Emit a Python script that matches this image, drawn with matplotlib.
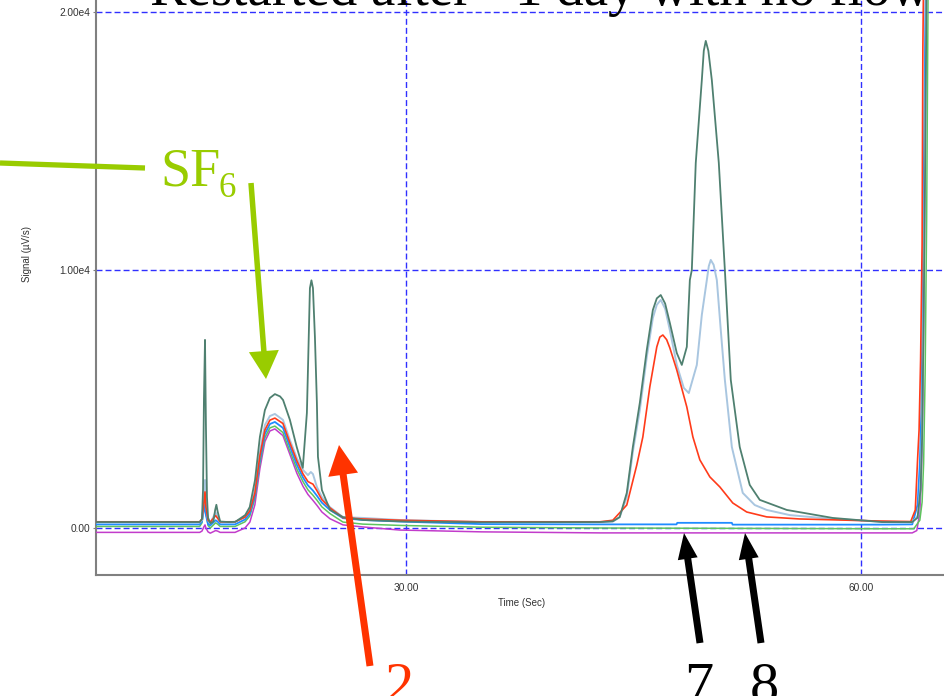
import numpy as np
import matplotlib
matplotlib.use("Agg")
import matplotlib.pyplot as plt
from matplotlib.patches import Polygon
from matplotlib.lines import Line2D

# ---------------- data (time in s, signal in uV/s) ----------------
teal_t = [9.6, 16.4, 16.55, 16.62, 16.68, 16.75, 16.81, 16.88, 16.95, 17.1, 17.3, 17.42, 17.5, 17.58, 17.75,
          18.3, 18.75, 19.4, 19.7, 20.05, 20.37, 20.7, 21.03, 21.36, 21.7, 21.9, 22.35, 22.8, 23.2, 23.47,
          23.54, 23.67, 23.77, 23.87, 24.0, 24.13, 24.2, 24.46, 25.0, 25.85, 27.2, 30.0, 35.0, 42.8, 43.65, 44.1,
          44.57, 44.97, 45.43, 45.89, 46.29, 46.55, 46.81, 47.1, 47.41, 47.87, 48.2, 48.53, 48.73, 48.86, 49.12,
          49.52, 49.65, 49.78, 49.95, 50.18, 50.64, 51.04, 51.43, 52.02, 52.68, 53.34, 55.12, 58.15, 61.4,
          63.4, 63.75, 63.95, 64.05, 64.15, 64.25, 64.35, 65.6]
teal_v = [230, 230, 350, 1500, 5000, 7290, 4000, 1200, 400, 180, 250, 700, 900, 650, 250,
          230, 240, 500, 810, 1860, 3530, 4570, 5040, 5190, 5100, 4960, 4190, 3140, 2330, 4460,
          6120, 9300, 9600, 9300, 7400, 4850, 2760, 1470, 700, 420, 310, 250, 220, 230, 260, 420,
          1360, 3140, 4850, 6900, 8450, 8900, 9030, 8700, 7950, 6780, 6320, 7020, 9610, 10000, 14150,
          17360, 18500, 18880, 18500, 17360, 14150, 10000, 5740, 3140, 1670, 1090, 700, 390, 230,
          230, 400, 1500, 3500, 8000, 14000, 21500, 21500]

lblue_t = [9.6, 16.4, 16.55, 16.68, 16.75, 16.81, 16.95, 17.1, 17.45, 17.58, 17.75, 18.73, 19.39, 19.71,
           20.04, 20.37, 20.7, 21.03, 21.36, 21.89, 22.35, 22.81, 23.21, 23.54, 23.73, 23.87, 24.13, 24.46,
           24.99, 25.85, 27.16, 29.6, 35.0, 42.8, 43.65, 44.1, 44.57, 44.97, 45.43, 45.89, 46.29, 46.55,
           46.81, 47.1, 47.41, 47.87, 48.33, 48.66, 49.19, 49.52, 49.85, 49.98, 50.11, 50.3, 50.51, 50.77,
           51.04, 51.5, 52.22, 53.01, 53.8, 55.32, 58.15, 61.38, 63.4, 63.8, 63.95, 64.05, 64.15, 64.25,
           64.35, 65.6]
lblue_v = [220, 220, 300, 1200, 1860, 900, 300, 200, 600, 450, 230, 230, 430, 700,
           1470, 2950, 3990, 4340, 4420, 4190, 3410, 2710, 2250, 2050, 2170, 2090, 1590, 1200,
           810, 420, 390, 310, 230, 220, 250, 420, 1200, 2950, 4570, 6630, 8140, 8650,
           8840, 8500, 7670, 6320, 5430, 5230, 6320, 8260, 9610, 10150, 10390, 10200, 9610, 7670,
           5740, 3140, 1360, 890, 700, 500, 350, 250, 220, 500, 1800, 4000, 9000, 15000,
           21500, 21500]

red_t = [9.6, 16.4, 16.55, 16.68, 16.75, 16.81, 16.95, 17.1, 17.45, 17.58, 17.75, 18.73, 19.39, 19.71,
         20.04, 20.37, 20.7, 21.03, 21.36, 21.89, 22.35, 22.81, 23.21, 23.54, 23.73, 23.87, 24.13, 24.46,
         24.99, 25.85, 27.16, 29.6, 35.0, 42.8, 43.65, 44.57, 45.23, 45.63, 46.09, 46.55, 46.75, 46.95,
         47.2, 47.41, 47.87, 48.53, 48.93, 49.39, 50.05, 50.71, 51.56, 52.48, 53.8, 55.98, 61.2, 63.3,
         63.6, 63.75, 63.85, 63.95, 64.05, 64.1, 64.15, 65.6]
red_v = [240, 240, 350, 1000, 1400, 800, 300, 230, 480, 380, 240, 240, 420, 660,
         1350, 2800, 3800, 4180, 4260, 4050, 3300, 2600, 2100, 1800, 1740, 1700, 1450, 1100,
         780, 400, 350, 300, 240, 240, 300, 890, 2440, 3530, 5470, 7020, 7400, 7480,
         7300, 6980, 6120, 4690, 3530, 2640, 1980, 1590, 970, 620, 430, 350, 270, 250,
         700, 2640, 3800, 6500, 11000, 18600, 21500, 21500]

blue_t = [9.6, 16.4, 16.55, 16.68, 16.75, 16.81, 16.95, 17.1, 17.45, 17.58, 17.75, 18.73, 19.39, 19.71,
          20.04, 20.37, 20.7, 21.03, 21.36, 21.89, 22.35, 22.81, 23.21, 23.54, 23.87, 24.13, 24.46, 24.99,
          25.85, 27.16, 29.6, 35.0, 42.8, 47.85, 47.9, 51.5, 51.55, 61.2, 63.4, 63.75, 63.9, 64.0, 64.1,
          64.2, 64.3, 65.6]
blue_v = [140, 140, 250, 700, 900, 500, 150, 100, 300, 250, 140, 140, 330, 560,
          1250, 2650, 3650, 4030, 4110, 3880, 3150, 2450, 1960, 1650, 1450, 1250, 980, 700,
          380, 310, 250, 150, 140, 140, 200, 200, 130, 130, 140, 900, 2500, 4500, 9000,
          16000, 21500, 21500]

green_t = [9.6, 16.4, 16.55, 16.68, 16.75, 16.81, 16.95, 17.1, 17.45, 17.58, 17.75, 18.73, 19.39, 19.71,
           20.04, 20.37, 20.7, 21.03, 21.36, 21.89, 22.35, 22.81, 23.21, 23.54, 23.87, 24.13, 24.46, 24.99,
           25.85, 27.16, 29.6, 35.0, 42.8, 61.5, 63.5, 63.9, 64.05, 64.15, 64.25, 64.35, 64.45, 65.6]
green_v = [60, 60, 200, 800, 1100, 600, 100, 0, 200, 150, 60, 60, 240, 470,
           1150, 2500, 3500, 3880, 3950, 3700, 2980, 2280, 1800, 1480, 1270, 1080, 820, 560,
           230, 150, 100, 30, 0, -30, -30, 300, 1000, 2500, 6000, 12000, 21500, 21500]

mag_t = [9.6, 16.4, 16.55, 16.68, 16.75, 16.81, 16.95, 17.1, 17.45, 17.58, 17.75, 18.73, 19.39, 19.71,
         20.04, 20.37, 20.7, 21.03, 21.36, 21.89, 22.35, 22.81, 23.21, 23.54, 23.87, 24.13, 24.46, 24.99,
         25.85, 27.16, 29.6, 35.0, 42.8, 63.4, 63.7, 63.9, 64.0, 64.1, 64.2, 64.3, 65.6]
mag_v = [-170, -170, -120, 50, 120, 0, -150, -200, -100, -120, -170, -170, 0, 230,
         900, 2300, 3350, 3760, 3840, 3580, 2850, 2120, 1620, 1300, 1070, 880, 620, 360,
         120, 40, -80, -150, -190, -190, -100, 600, 2000, 5000, 11000, 21500, 21500]

series = [
    (mag_t, mag_v, "#c23ccb", 1.1),
    (green_t, green_v, "#5ec45e", 1.1),
    (blue_t, blue_v, "#1f8cff", 1.3),
    (lblue_t, lblue_v, "#a9c6e0", 1.4),
    (red_t, red_v, "#ff3b1a", 1.2),
    (teal_t, teal_v, "#4f8070", 1.3),
]

x_ticks = [30.0, 60.0]
x_ticklabels = ["30.00", "60.00"]
y_ticks = [0, 10000, 20000]
y_ticklabels = ["0.00", "1.00e4", "2.00e4"]

# ---------------- figure ----------------
W, H = 945, 696
fig = plt.figure(figsize=(W / 100, H / 100), dpi=100)
ax = fig.add_axes([96 / W, 1 - 575 / H, 1 - 96 / W, 575 / H])

for t, v, c, lw in series:
    ax.plot(t, v, color=c, lw=lw, zorder=3, solid_joinstyle="round")

ax.set_xlim(9.56, 65.56)
ax.set_ylim(-1822, 20465)
ax.set_xticks(x_ticks)
ax.set_xticklabels(x_ticklabels)
ax.set_yticks(y_ticks)
ax.set_yticklabels(y_ticklabels)
for lab in ax.get_xticklabels() + ax.get_yticklabels():
    lab.set_fontfamily("Liberation Sans")
    lab.set_fontsize(7.3)
    lab.set_color("#333333")
ax.tick_params(axis="y", length=2.5, width=0.8, color="#808080", pad=1.5)
ax.tick_params(axis="x", length=0, pad=6)

ax.grid(True, color="#3030ff", lw=1.0, ls=(0, (4.3, 2.2)), zorder=1)
ax.set_axisbelow(True)
for s in ["top", "right"]:
    ax.spines[s].set_visible(False)
for s in ["left", "bottom"]:
    ax.spines[s].set_color("#808080")
    ax.spines[s].set_linewidth(1.5)

fig.text(522 / W, 1 - 603 / H, "Time (Sec)", ha="center", va="center",
         fontsize=7, family="Liberation Sans", color="#333333")
fig.text(27 / W, 1 - 254 / H, "Signal (\u00b5V/s)", ha="center", va="center", rotation=90,
         fontsize=7, family="Liberation Sans", color="#333333")

# title (cropped at top, as in the reference)
fig.text(150 / W, 1 - 5 / H, "Restarted after ~1 day with no flow", ha="left", va="baseline",
         fontsize=39.5, family="Liberation Serif", color="black")


# ---------------- annotations ----------------
def px(x, y):
    return (x / W, 1 - y / H)


def arrow(tail, tip, shaft, head_w, head_len, color):
    tail = np.array(tail, float)
    tip = np.array(tip, float)
    d = tip - tail
    u = d / np.hypot(*d)
    n = np.array([-u[1], u[0]])
    base = tip - u * head_len
    pts = [tail + n * shaft / 2, base + n * shaft / 2, base + n * head_w / 2, tip,
           base - n * head_w / 2, base - n * shaft / 2, tail - n * shaft / 2]
    pts = [px(p[0], p[1]) for p in pts]
    fig.add_artist(Polygon(pts, closed=True, transform=fig.transFigure,
                           facecolor=color, edgecolor="none", zorder=10))


green = "#99cc00"
fig.add_artist(Line2D([0, 145 / W], [1 - 163 / H, 1 - 168 / H], transform=fig.transFigure,
                      color=green, lw=3.8, solid_capstyle="butt", zorder=10))
arrow((251, 183), (266, 379), 5.5, 30, 28, green)
fig.text(160 / W, 1 - 185 / H, "SF", ha="left", va="baseline", fontsize=39,
         family="Liberation Serif", color=green)
fig.text(219 / W, 1 - 197 / H, "6", ha="left", va="baseline", fontsize=25,
         family="Liberation Serif", color=green)

red = "#ff3300"
arrow((370, 666), (339, 445), 7, 30, 30, red)
fig.text(384 / W, 1 - 702 / H, "2", ha="left", va="baseline", fontsize=42,
         family="Liberation Serif", color=red)

arrow((700, 643), (684, 533), 7, 20, 26, "black")
arrow((761, 643), (745, 533), 7, 20, 26, "black")
fig.text(684 / W, 1 - 702 / H, "7", ha="left", va="baseline", fontsize=42,
         family="Liberation Serif", color="black")
fig.text(750 / W, 1 - 702 / H, "8", ha="left", va="baseline", fontsize=42,
         family="Liberation Serif", color="black")

fig.savefig("out.png", dpi=100)
